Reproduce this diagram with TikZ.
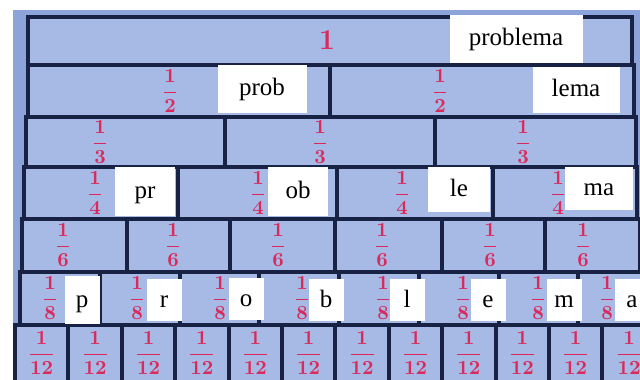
\documentclass[tikz,border=0pt]{standalone}
\usepackage{amsmath}
\usepackage{fontspec}
\setmainfont{Liberation Serif}
\usepackage{xcolor}

\definecolor{board}{RGB}{140,164,218}
\definecolor{paper}{RGB}{166,186,229}
\definecolor{ink}{RGB}{24,34,68}
\definecolor{redink}{RGB}{218,42,92}

\begin{document}
\begin{tikzpicture}[x=0.5pt,y=-0.5pt,
    strip/.style={draw=ink,fill=paper,line width=2pt},
    frac/.style={text=redink,inner sep=0pt,font=\fontsize{10}{10}\selectfont\boldmath},
    word/.style={fill=white,inner sep=0pt,text height=0.8em,text depth=0.1em,
      font=\fontsize{12.5}{13}\selectfont},
    letter/.style={word,minimum width=17.5pt,minimum height=21pt}]
      \useasboundingbox (0,0) rectangle (640,379);
      \clip (0,0) rectangle (640,379);
      \fill[white] (0,0) rectangle (640,379);
      \fill[board] (13,10) rectangle (640,379);

      % the strips, row by row
      \draw[strip] (28,17) rectangle (632,65);
      \foreach \a/\b in {28/330,330/634}
        \draw[strip] (\a,65) rectangle (\b,117);
      \foreach \a/\b in {26/225,225/435,435/636}
        \draw[strip] (\a,117) rectangle (\b,167);
      \foreach \a/\b in {24/178,178/337,337/493,493/637}
        \draw[strip] (\a,167) rectangle (\b,219);
      \foreach \a/\b in {22/127,127/230,230/335,335/442,442/545,545/640}
        \draw[strip] (\a,219) rectangle (\b,272);
      \foreach \i in {0,...,7}
        \draw[strip] ({20+\i*79.75},272) rectangle ({20+(\i+1)*79.75},325);
      \foreach \i in {0,...,11}
        \draw[strip] ({15+\i*53.4},325) rectangle ({15+(\i+1)*53.4},392);

      % fractions
      \node[frac,font=\fontsize{15}{15}\selectfont\boldmath] (whole) at (327,40) {$1$};
      \foreach \x [count=\i] in {170,440}
        \node[frac] (half\i) at (\x,91) {$\dfrac{1}{2}$};
      \foreach \x [count=\i] in {100,320,523}
        \node[frac] (third\i) at (\x,142) {$\dfrac{1}{3}$};
      \foreach \x [count=\i] in {95,258,402,558}
        \node[frac] (quarter\i) at (\x,193) {$\dfrac{1}{4}$};
      \foreach \x [count=\i] in {63,173,278,382,490,583}
        \node[frac] (sixth\i) at (\x,245) {$\dfrac{1}{6}$};
      \foreach \x [count=\i] in {50,137,220,302,383,463,538,607}
        \node[frac] (eighth\i) at (\x,298) {$\dfrac{1}{8}$};
      \foreach \i in {1,...,12}
        \node[frac] (twelfth\i) at ({15+(\i-0.5)*53.4},353) {$\dfrac{1}{12}$};

      % word pieces
      \node[word,minimum width=66.5pt,minimum height=24pt] (problema) at (516,39) {problema};
      \node[word,minimum width=44.5pt,minimum height=24pt] (prob) at (262,89) {prob};
      \node[word,minimum width=43.5pt,minimum height=23pt] (lema) at (576,90) {lema};
      \node[word,minimum width=30pt,minimum height=24.5pt] (pr) at (145,191) {pr};
      \node[word,minimum width=30pt,minimum height=24.5pt] (ob) at (298,191) {ob};
      \node[word,minimum width=31pt,minimum height=22.5pt] (le) at (459,189) {le};
      \node[word,minimum width=34pt,minimum height=21.5pt] (ma) at (599,188) {ma};
      \node[letter,minimum height=24pt] (p) at (82,300) {p};
      \node[letter] (r) at (164,300) {r};
      \node[letter] (o) at (246,299) {o};
      \node[letter] (b) at (326,300) {b};
      \node[letter] (l) at (407,300) {l};
      \node[letter] (e) at (488,300) {e};
      \node[letter] (m) at (564,300) {m};
      \node[letter] (a) at (632,300) {a};
\end{tikzpicture}
\end{document}
